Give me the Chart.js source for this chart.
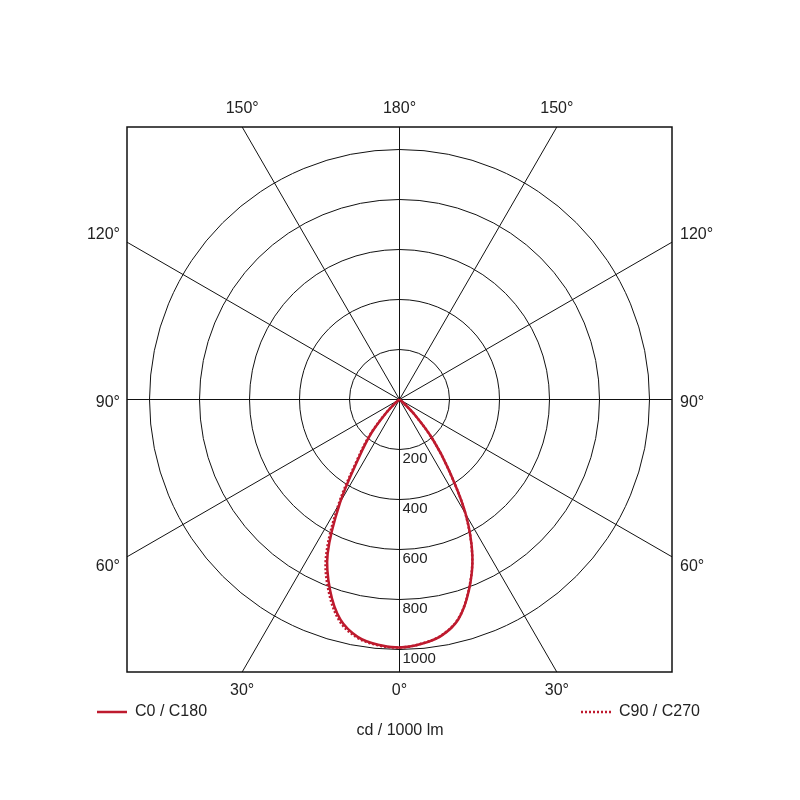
<!DOCTYPE html>
<html>
<head>
<meta charset="utf-8">
<script src="https://cdn.jsdelivr.net/npm/chart.js@4/dist/chart.umd.min.js"></script>
<style>
  html, body { margin: 0; padding: 0; background: #ffffff; }
  #wrap { width: 800px; height: 800px; }
</style>
</head>
<body>
<div id="wrap"><canvas id="c" width="800" height="800"></canvas></div>
<script>
// Gamma angles (degrees from nadir) and luminous intensities (cd / 1000 lm)
const gammaAngles = [0, 5, 10, 15, 20, 25, 30, 35, 40, 45, 50, 55, 60, 65, 70, 75, 80, 85, 90];
const c0Values   = [992, 982, 960, 910, 812, 690, 530, 345, 205, 85, 15, 0, 0, 0, 0, 0, 0, 0, 0];
const c180Values = [992, 985, 964, 912, 812, 680, 475, 283, 175, 75, 20, 0, 0, 0, 0, 0, 0, 0, 0];
const c90Values  = [992, 981, 959, 908, 810, 688, 527, 342, 202, 83, 14, 0, 0, 0, 0, 0, 0, 0, 0];
const c270Values = [992, 987, 968, 920, 824, 696, 492, 296, 182, 77, 20, 0, 0, 0, 0, 0, 0, 0, 0];

const ringValues = [200, 400, 600, 800, 1000];
const spokeAngles = [0, 30, 60, 90, 120, 150, 180];
const axisMax = 1090;
const unitLabel = 'cd / 1000 lm';
const seriesLabels = ['C0 / C180', 'C90 / C270'];
const lineColor = '#be1a2e';
const textColor = '#222222';
const fontFamily = '"Liberation Sans", Arial, sans-serif';

// polar (gamma, I) -> cartesian, y up; gamma 0 points down
function toXY(leftVals, rightVals) {
  const pts = [];
  for (let i = gammaAngles.length - 1; i >= 0; i--) {
    const a = gammaAngles[i] * Math.PI / 180;
    pts.push({ x: -leftVals[i] * Math.sin(a), y: -leftVals[i] * Math.cos(a) });
  }
  for (let i = 1; i < gammaAngles.length; i++) {
    const a = gammaAngles[i] * Math.PI / 180;
    pts.push({ x: rightVals[i] * Math.sin(a), y: -rightVals[i] * Math.cos(a) });
  }
  return pts;
}

const polarGrid = {
  id: 'polarGrid',
  beforeDatasetsDraw(chart) {
    const { ctx, chartArea: ca, scales: { x, y } } = chart;
    const cx = x.getPixelForValue(0), cy = y.getPixelForValue(0);
    const pxPer = x.getPixelForValue(1000) - cx;
    ctx.save();
    ctx.beginPath();
    ctx.rect(ca.left, ca.top, ca.right - ca.left, ca.bottom - ca.top);
    ctx.clip();
    ctx.strokeStyle = '#111111';
    ctx.lineWidth = 1;
    ringValues.forEach(v => {
      ctx.beginPath();
      ctx.arc(cx, cy, pxPer * v / 1000, 0, Math.PI * 2);
      ctx.stroke();
    });
    spokeAngles.forEach(g => {
      const a = g * Math.PI / 180;
      const L = 2000;
      [1, -1].forEach(s => {
        ctx.beginPath();
        ctx.moveTo(cx, cy);
        ctx.lineTo(cx + s * L * Math.sin(a), cy + L * Math.cos(a));
        ctx.stroke();
      });
    });
    ctx.restore();

    // ring value labels
    ctx.save();
    ctx.fillStyle = textColor;
    ctx.font = '15px ' + fontFamily;
    ctx.textAlign = 'left';
    ctx.textBaseline = 'top';
    ringValues.forEach(v => {
      ctx.fillText(String(v), cx + 3, cy + pxPer * v / 1000 + 2);
    });
    ctx.restore();
  },
  afterDraw(chart) {
    const { ctx, chartArea: ca, scales: { x, y } } = chart;
    const cx = x.getPixelForValue(0), cy = y.getPixelForValue(0);
    ctx.save();
    // frame
    ctx.strokeStyle = '#111111';
    ctx.lineWidth = 1.5;
    ctx.strokeRect(ca.left, ca.top, ca.right - ca.left, ca.bottom - ca.top);

    ctx.fillStyle = textColor;
    ctx.font = '16px ' + fontFamily;
    const halfW = (ca.right - ca.left) / 2;
    // top/bottom labels
    ctx.textAlign = 'center';
    ctx.textBaseline = 'middle';
    [150, 180].forEach(g => {
      const a = (180 - g) * Math.PI / 180;
      const dx = halfW * Math.tan(a);
      const t = g + '°';
      ctx.fillText(t, cx - dx, ca.top - 18);
      if (dx !== 0) ctx.fillText(t, cx + dx, ca.top - 18);
    });
    [0, 30].forEach(g => {
      const a = g * Math.PI / 180;
      const dx = halfW * Math.tan(a);
      const t = g + '°';
      ctx.fillText(t, cx - dx, ca.bottom + 19);
      if (dx !== 0) ctx.fillText(t, cx + dx, ca.bottom + 19);
    });
    // side labels
    const offs = { 60: 10, 90: 3, 120: -8 };
    [60, 90, 120].forEach(g => {
      const a = (90 - g) * Math.PI / 180;
      const yy = cy + halfW * Math.tan(a) + offs[g];
      ctx.textAlign = 'right';
      ctx.fillText(g + '°', ca.left - 7, yy);
      ctx.textAlign = 'left';
      ctx.fillText(g + '°', ca.right + 8, yy);
    });

    // legend
    const ly = 712;
    ctx.strokeStyle = lineColor;
    ctx.lineWidth = 2.5;
    ctx.beginPath();
    ctx.moveTo(97, ly); ctx.lineTo(127, ly);
    ctx.stroke();
    ctx.setLineDash([2, 2]);
    ctx.beginPath();
    ctx.moveTo(581, ly); ctx.lineTo(611, ly);
    ctx.stroke();
    ctx.setLineDash([]);
    ctx.textAlign = 'left';
    ctx.font = '16px ' + fontFamily;
    ctx.fillText(chart.data.datasets[0].label, 135, ly);
    ctx.fillText(chart.data.datasets[1].label, 619, ly);
    ctx.textAlign = 'center';
    ctx.fillText(unitLabel, 400, 731);
    ctx.restore();
  }
};

new Chart(document.getElementById('c'), {
  type: 'scatter',
  data: {
    datasets: [
      {
        label: seriesLabels[0],
        data: toXY(c180Values, c0Values),
        showLine: true,
        borderColor: lineColor,
        borderWidth: 2.5,
        pointRadius: 0,
        tension: 0.35,
        fill: false
      },
      {
        label: seriesLabels[1],
        data: toXY(c270Values, c90Values),
        showLine: true,
        borderColor: lineColor,
        borderWidth: 2.5,
        borderDash: [2, 2],
        pointRadius: 0,
        tension: 0.35,
        fill: false
      }
    ]
  },
  options: {
    responsive: false,
    animation: false,
    devicePixelRatio: 1,
    layout: { padding: { left: 127, right: 128, top: 127, bottom: 128 } },
    scales: {
      x: { type: 'linear', min: -axisMax, max: axisMax, display: false },
      y: { type: 'linear', min: -axisMax, max: axisMax, display: false }
    },
    plugins: {
      legend: { display: false },
      tooltip: { enabled: false }
    }
  },
  plugins: [polarGrid]
});
</script>
</body>
</html>
